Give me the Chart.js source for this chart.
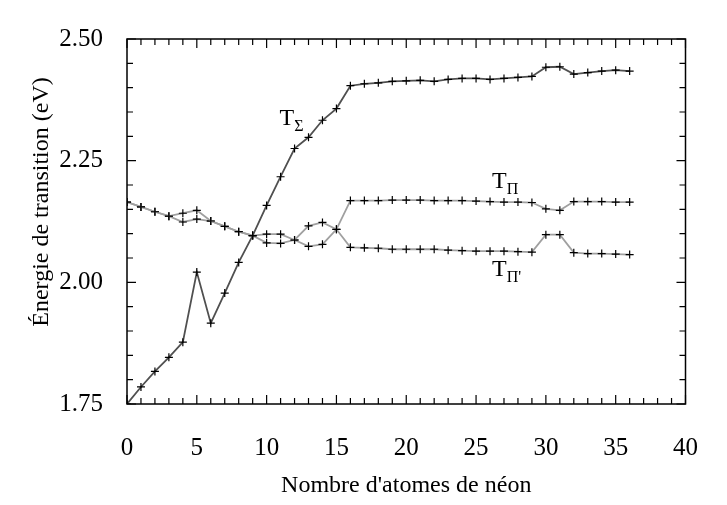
<!DOCTYPE html>
<html>
<head>
<meta charset="utf-8">
<script src="https://cdn.jsdelivr.net/npm/chart.js@4.4.1/dist/chart.umd.min.js"></script>
<style>
  html, body { margin: 0; padding: 0; background: #fff; }
  #wrap { width: 727px; height: 505px; }
</style>
</head>
<body>
<div id="wrap"><canvas id="chart" width="727" height="505"></canvas></div>
<script>
const atomCounts = Array.from({ length: 37 }, (_, i) => i);

const sigmaValues = [
  1.750, 1.785, 1.817, 1.846, 1.877, 2.021, 1.916, 1.978, 2.041, 2.096,
  2.158, 2.217, 2.275, 2.298, 2.333, 2.357, 2.404, 2.408, 2.410, 2.413,
  2.414, 2.415, 2.413, 2.417, 2.419, 2.419, 2.417, 2.419, 2.421, 2.423,
  2.442, 2.443, 2.428, 2.431, 2.434, 2.436, 2.434,
];

const piValues = [
  2.165, 2.155, 2.145, 2.136, 2.142, 2.148, 2.126, 2.115, 2.104, 2.096,
  2.099, 2.099, 2.087, 2.116, 2.123, 2.109, 2.168, 2.168, 2.168, 2.169,
  2.169, 2.169, 2.168, 2.168, 2.168, 2.167, 2.166, 2.165, 2.165, 2.164,
  2.151, 2.148, 2.166, 2.166, 2.166, 2.165, 2.165,
];

const piPrimeValues = [
  2.165, 2.155, 2.145, 2.136, 2.124, 2.130, 2.126, 2.115, 2.104, 2.096,
  2.081, 2.080, 2.087, 2.074, 2.078, 2.109, 2.072, 2.071, 2.070, 2.068,
  2.068, 2.068, 2.068, 2.066, 2.065, 2.064, 2.064, 2.064, 2.063, 2.062,
  2.098, 2.098, 2.061, 2.059, 2.059, 2.058, 2.057,
];

const xTicks = [0, 5, 10, 15, 20, 25, 30, 35, 40];
const yTicks = [1.75, 2.00, 2.25, 2.50];

// curve labels: [main, subscript, x, y]
const curveLabels = [
  ["T", "\u03A3", 10.92, 2.3225],
  ["T", "\u03A0", 26.14, 2.193],
  ["T", "\u03A0'", 26.14, 2.0127],
];

const serif = "'Liberation Serif', 'Times New Roman', serif";

const toPoints = (vals) => vals.map((v, i) => ({ x: atomCounts[i], y: v }));

const seriesStyle = (color) => ({
  borderColor: color,
  borderWidth: 1.8,
  pointStyle: "cross",
  pointRadius: 4,
  pointBorderColor: "#000",
  pointBorderWidth: 1.2,
  pointBackgroundColor: "#000",
  tension: 0,
  fill: false,
});

const framePlugin = {
  id: "frame",
  afterDraw(chart) {
    const { ctx, chartArea: a, scales } = chart;
    const xs = scales.x, ys = scales.y;
    ctx.save();
    ctx.strokeStyle = "#000";
    ctx.lineWidth = 1.5;
    ctx.strokeRect(a.left, a.top, a.right - a.left, a.bottom - a.top);

    // inward ticks on all four sides
    ctx.lineWidth = 1.2;
    ctx.beginPath();
    for (let v = 0; v <= 40; v++) {
      const len = v % 5 === 0 ? 9 : 6;
      const px = xs.getPixelForValue(v);
      ctx.moveTo(px, a.bottom); ctx.lineTo(px, a.bottom - len);
      ctx.moveTo(px, a.top); ctx.lineTo(px, a.top + len);
    }
    for (let k = 0; k <= 15; k++) {
      const v = 1.75 + k * 0.05;
      const len = k % 5 === 0 ? 9 : 6;
      const py = ys.getPixelForValue(v);
      ctx.moveTo(a.left, py); ctx.lineTo(a.left + len, py);
      ctx.moveTo(a.right, py); ctx.lineTo(a.right - len, py);
    }
    ctx.stroke();

    // axis titles
    ctx.fillStyle = "#000";
    ctx.font = "24px " + serif;
    ctx.textAlign = "center";
    ctx.textBaseline = "middle";
    ctx.fillText("Nombre d'atomes de néon", (a.left + a.right) / 2, 486);
    ctx.translate(42, 202);
    ctx.rotate(-Math.PI / 2);
    ctx.fillText("Énergie de transition (eV)", 0, 0);
    ctx.restore();

    // curve labels
    ctx.save();
    ctx.fillStyle = "#000";
    ctx.textBaseline = "alphabetic";
    ctx.textAlign = "left";
    curveLabels.forEach(([main, sub, x, y]) => {
      const px = xs.getPixelForValue(x);
      const py = ys.getPixelForValue(y);
      ctx.font = "24px " + serif;
      ctx.fillText(main, px, py);
      const w = ctx.measureText(main).width;
      ctx.font = "16px " + serif;
      ctx.fillText(sub, px + w, py + 6);
    });
    ctx.restore();
  },
};

new Chart(document.getElementById("chart"), {
  type: "line",
  plugins: [framePlugin],
  data: {
    datasets: [
      { label: "T\u03A3", data: toPoints(sigmaValues), ...seriesStyle("#505050") },
      { label: "T\u03A0", data: toPoints(piValues), ...seriesStyle("#a0a0a0") },
      { label: "T\u03A0'", data: toPoints(piPrimeValues), ...seriesStyle("#a0a0a0") },
    ],
  },
  options: {
    responsive: false,
    animation: false,
    layout: { padding: { left: 0, right: 14, top: 21, bottom: 0 } },
    plugins: {
      legend: { display: false },
      tooltip: { enabled: false },
    },
    scales: {
      x: {
        type: "linear",
        min: 0,
        max: 40,
        afterFit: (s) => { s.height = 101; },
        afterBuildTicks: (s) => { s.ticks = xTicks.map((v) => ({ value: v })); },
        grid: { display: false, drawTicks: false },
        border: { display: false },
        ticks: {
          color: "#000",
          padding: 29,
          font: { family: serif, size: 25 },
          maxRotation: 0,
        },
      },
      y: {
        type: "linear",
        min: 1.75,
        max: 2.5,
        afterFit: (s) => { s.width = 127; },
        afterBuildTicks: (s) => { s.ticks = yTicks.map((v) => ({ value: v })); },
        grid: { display: false, drawTicks: false },
        border: { display: false },
        ticks: {
          color: "#000",
          padding: 24,
          font: { family: serif, size: 25 },
          callback: (v) => Number(v).toFixed(2),
        },
      },
    },
  },
});
</script>
</body>
</html>
